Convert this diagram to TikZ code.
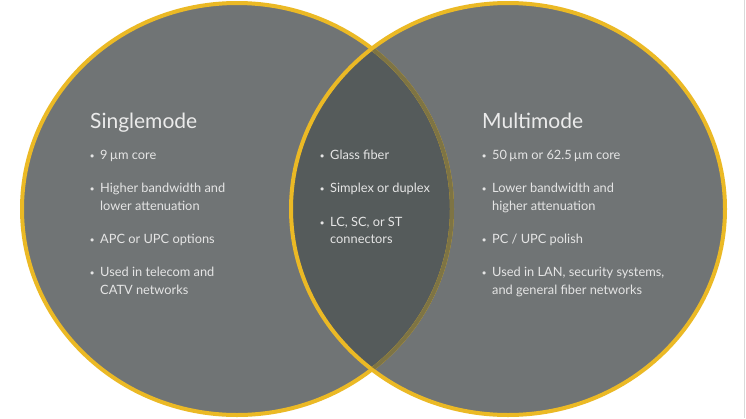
\documentclass[tikz,border=0pt]{standalone}
\usepackage{fontspec}
\setmainfont{Lato}
\definecolor{vgrey}{HTML}{707475}
\definecolor{vlens}{HTML}{555B5B}
\definecolor{vgold}{HTML}{EBB925}
\definecolor{vgoldd}{HTML}{7E7444}
\tikzset{
  ring/.style={draw=vgold,line width=4pt},
  ttl/.style={anchor=base west,inner sep=0pt,text=white!92!black,font=\fontsize{21}{24}\selectfont},
  itm/.style={anchor=north west,inner sep=0pt,text=white!90!black,align=left,
              font=\fontsize{12.8}{17.5}\selectfont},
}
\newcommand{\bul}{\makebox[10pt][l]{\raisebox{1pt}{\scalebox{.7}{$\bullet$}}}}
\begin{document}
\begin{tikzpicture}[x=1pt,y=-1pt]
    \useasboundingbox (0,0) rectangle (746,418);
    \fill[white] (0,0) rectangle (746,418);
    \draw[black!15,line width=.8pt] (744,0) -- (744,418);

    % the two sets
    \fill[vgrey] (237,209) ellipse [x radius=215,y radius=206];
    \fill[vgrey] (508,209) ellipse [x radius=217,y radius=206];
    \begin{scope}
        \clip (237,209) ellipse [x radius=215,y radius=206];
        \fill[vlens] (508,209) ellipse [x radius=217,y radius=206];
    \end{scope}
    \draw[ring] (237,209) ellipse [x radius=215,y radius=206];
    \draw[ring] (508,209) ellipse [x radius=217,y radius=206];
    \begin{scope}
        \clip (508,209) ellipse [x radius=215,y radius=204];
        \draw[ring,draw=vgoldd] (237,209) ellipse [x radius=215,y radius=206];
    \end{scope}

    % left
    \node[ttl] (sm) at (90,128) {Singlemode};
    \node[itm] (sm1) at (90,150) {\bul 9\,µm core};
    \node[itm] (sm2) at (90,183) {\bul Higher bandwidth and\\\hspace*{10pt}lower attenuation};
    \node[itm] (sm3) at (90,234) {\bul APC or UPC options};
    \node[itm] (sm4) at (90,267) {\bul Used in telecom and\\\hspace*{10pt}CATV networks};

    % middle
    \node[itm] (ct1) at (320,150) {\bul Glass fiber};
    \node[itm] (ct2) at (320,183) {\bul Simplex or duplex};
    \node[itm] (ct3) at (320,217) {\bul LC, SC, or ST\\\hspace*{10pt}connectors};

    % right
    \node[ttl] (mm) at (482,128) {Multimode};
    \node[itm] (mm1) at (482,150) {\bul 50\,µm or 62.5\,µm core};
    \node[itm] (mm2) at (482,183) {\bul Lower bandwidth and\\\hspace*{10pt}higher attenuation};
    \node[itm] (mm3) at (482,234) {\bul PC / UPC polish};
    \node[itm] (mm4) at (482,267) {\bul Used in LAN, security systems,\\\hspace*{10pt}and general fiber networks};
\end{tikzpicture}
\end{document}
